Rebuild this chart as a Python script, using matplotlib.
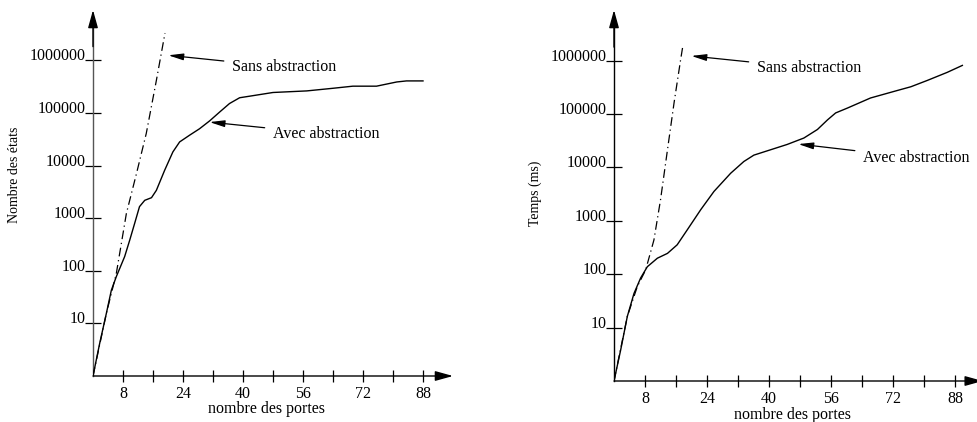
import matplotlib
matplotlib.use("Agg")
import matplotlib.pyplot as plt
import numpy as np

plt.rcParams['font.family'] = ['Liberation Serif', 'DejaVu Serif']

# ---------------- data ----------------
# Left panel: number of states (log10 values)
left_sans_x = [0, 3.56, 6.22, 8.9, 11.6, 14.2, 16.9, 19.2]
left_sans_logy = [0, 1.19, 1.95, 3.09, 3.85, 4.61, 5.62, 6.52]

left_avec_x = [0, 1.78, 3.56, 4.89, 6.22, 8.44, 9.78, 11.1, 12.4, 13.8, 15.6, 16.9,
               19.1, 21.3, 23.1, 25.8, 28.4, 31.1, 33.8, 36.4, 39.1, 41.8, 48,
               57, 64, 69.3, 75.6, 81, 83.6, 88]
left_avec_logy = [0, 0.62, 1.19, 1.63, 1.89, 2.27, 2.58, 2.90, 3.22, 3.34, 3.39, 3.53,
                  3.91, 4.26, 4.45, 4.58, 4.70, 4.85, 5.02, 5.18, 5.29, 5.32, 5.39,
                  5.42, 5.47, 5.51, 5.51, 5.59, 5.61, 5.61]

# Right panel: time (ms)
right_sans_x = [0, 3.44, 6.02, 8.17, 10.3, 12.0, 13.8, 15.5, 17.2, 17.8]
right_sans_logy = [0, 1.21, 1.77, 2.08, 2.64, 3.39, 4.33, 5.21, 6.02, 6.29]

right_avec_x = [0, 1.72, 3.44, 5.16, 6.88, 8.6, 11.2, 13.8, 16.3, 18.9, 22.4, 25.8,
                30.1, 33.5, 36.1, 40.4, 44.7, 49.0, 52.5, 55.1, 57.2, 60.2, 66.2,
                73.1, 76.6, 80.9, 86.0, 89.9]
right_avec_logy = [0, 0.58, 1.21, 1.64, 1.93, 2.14, 2.30, 2.39, 2.55, 2.83, 3.21, 3.55,
                   3.89, 4.11, 4.23, 4.33, 4.43, 4.55, 4.71, 4.89, 5.02, 5.11, 5.30,
                   5.44, 5.51, 5.63, 5.78, 5.91]

y_ticks = [10, 100, 1000, 10000, 100000, 1000000]
y_tick_labels = ['10', '100', '1000', '10000', '100000', '1000000']
x_ticks = [8, 16, 24, 32, 40, 48, 56, 64, 72, 80, 88]
x_tick_labels = ['8', '', '24', '', '40', '', '56', '', '72', '', '88']

left_ylabel = 'Nombre des états'
right_ylabel = 'Temps (ms)'
xlabel = 'nombre des portes'
label_sans = 'Sans abstraction'
label_avec = 'Avec abstraction'

# ---------------- figure ----------------
W, H = 977, 422
fig = plt.figure(figsize=(W / 100, H / 100), dpi=100)
FS = 11.5


def make_axes(ox, oy, px_per_unit, px_per_decade, right_px, top_px):
    xmax = (right_px - ox) / px_per_unit
    ldec = (oy - top_px) / px_per_decade
    ax = fig.add_axes([ox / W, (H - oy) / H, (right_px - ox) / W, (oy - top_px) / H])
    ax.set_yscale('log')
    ax.set_xlim(0, xmax)
    ax.set_ylim(1, 10 ** ldec)
    for s in ax.spines.values():
        s.set_visible(False)
    ax.patch.set_alpha(0)
    ax.set_yticks(y_ticks, y_tick_labels)
    ax.yaxis.set_minor_locator(matplotlib.ticker.NullLocator())
    ax.set_xticks(x_ticks, x_tick_labels)
    ax.tick_params(axis='y', direction='inout', length=11, width=0.9, pad=0,
                   labelsize=FS)
    ax.tick_params(axis='x', direction='inout', length=8, width=0.9, pad=3,
                   labelsize=FS)
    for lab in ax.get_yticklabels():
        lab.set_verticalalignment('baseline')
    return ax


def axis_arrows(ax, xend_frac, ycolor='black'):
    ap = dict(arrowstyle='-|>,head_length=0.9,head_width=0.25', color='black',
              lw=1.0, shrinkA=0, shrinkB=0, mutation_scale=12)
    ax.annotate('', xy=(xend_frac, 0), xytext=(0, 0), xycoords='axes fraction',
                textcoords='axes fraction', arrowprops=ap, annotation_clip=False)
    ax.plot([0, 0], [0, 0.97], color=ycolor, lw=1.0, transform=ax.transAxes,
            clip_on=False)
    ax.annotate('', xy=(0, 1.0), xytext=(0, 0.9), xycoords='axes fraction',
                textcoords='axes fraction', arrowprops=ap, annotation_clip=False)


def note(ax, text, head, textpos):
    ax.annotate(text, xy=head, xytext=textpos, fontsize=FS, ha='left', va='center',
                arrowprops=dict(arrowstyle='-|>,head_length=0.9,head_width=0.2',
                                color='black', lw=0.9, shrinkA=4, shrinkB=1,
                                mutation_scale=10))


def pw(vals):
    return [10 ** v for v in vals]


# Left panel
axL = make_axes(93, 376, 3.75, 52.6, 453, 10)
axis_arrows(axL, 1.0, ycolor='#555555')
axL.plot(left_sans_x, pw(left_sans_logy), color='black', lw=0.9, ls=(0, (7, 3, 1, 3)))
axL.plot(left_avec_x, pw(left_avec_logy), color='black', lw=1.0)
note(axL, label_sans, (19.7, 10 ** 6.10), (37.1, 10 ** 5.87))
note(axL, label_avec, (30.7, 10 ** 4.83), (48.0, 10 ** 4.60))

# Right panel
axR = make_axes(614, 381, 3.875, 53.4, 972, 10)
axis_arrows(axR, 1.03)
axR.plot(right_sans_x, pw(right_sans_logy), color='black', lw=0.9, ls=(0, (7, 3, 1, 3)))
axR.plot(right_avec_x, pw(right_avec_logy), color='black', lw=1.0)
note(axR, label_sans, (19.6, 10 ** 6.09), (36.9, 10 ** 5.86))
note(axR, label_avec, (47.2, 10 ** 4.44), (64.3, 10 ** 4.18))

# axis titles
fig.text(15 / W, 1 - 175 / H, left_ylabel, rotation=90, ha='center', va='center',
         fontsize=10)
fig.text(535 / W, 1 - 193 / H, right_ylabel, rotation=90, ha='center', va='center',
         fontsize=10)
fig.text(267 / W, 1 - 409 / H, xlabel, ha='center', va='center', fontsize=FS)
fig.text(793 / W, 1 - 415 / H, xlabel, ha='center', va='center', fontsize=FS)

fig.savefig('out.png', dpi=100)
